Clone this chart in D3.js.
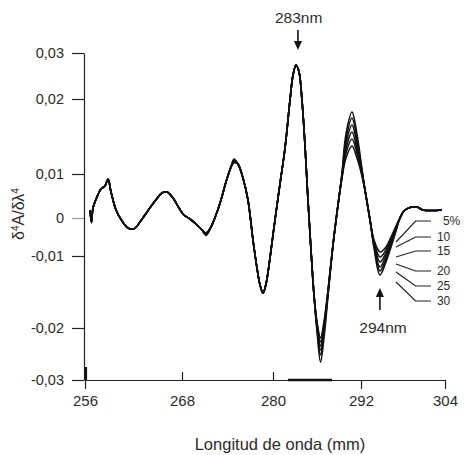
<!DOCTYPE html>
<html>
<head>
<meta charset="utf-8">
<script src="https://cdn.jsdelivr.net/npm/d3@7"></script>
<style>
body { margin: 0; background: #fff; }
text { font-family: "Liberation Sans", Arial, sans-serif; fill: #2b2b2b; }
.curve { fill: none; stroke: #111; stroke-width: 1.6; }
.axis path, .axis line { stroke: #222; stroke-width: 1.2; }
.leader { fill: none; stroke: #222; stroke-width: 1.2; }
</style>
</head>
<body>
<div id="chart"></div>
<script>
// wavelengths (nm) shared by every spectrum
const wavelength = [
    256.62,256.80,256.99,257.48,257.98,258.47,258.85,259.22,259.84,260.58,
    261.32,262.06,262.80,263.67,264.66,265.53,266.14,266.89,267.63,268.26,
    269.05,269.85,270.64,271.16,271.82,272.48,273.14,273.80,274.46,274.86,
    275.38,276.04,276.70,277.36,277.89,278.29,278.68,279.08,279.60,280.27,
    280.95,281.64,282.32,282.73,283.14,283.55,283.95,284.36,284.77,285.18,285.59,
    286.00,286.48,286.95,287.50,288.18,288.86,289.41,289.95,290.77,291.45,292.00,
    292.57,293.29,293.86,294.71,295.57,296.29,297.00,297.57,298.14,299.00,300.00,300.86,302.14,303.57];

// fourth derivative for each concentration
const s5 = [
    0.00182,-0.0008,0.00227,0.00477,0.00659,0.00727,0.00886,0.00591,0.00182,-0.00079,
    -0.00263,-0.00289,-0.00105,0.00136,0.00386,0.00568,0.00591,0.00455,0.00227,0.00068,
    -0.00026,-0.00158,-0.00316,-0.0039,-0.00237,0.00068,0.00409,0.00818,0.01093,0.0115,
    0.01133,0.00909,0.00409,-0.00579,-0.01167,-0.01403,-0.01514,-0.01389,-0.01028,-0.00053,
    0.00773,0.01347,0.01987,0.02522,0.02739,0.02587,0.01987,0.01387,0.00409,-0.00842,-0.01542,
    -0.01917,-0.02192,-0.01917,-0.01472,-0.00711,0.00295,0.00909,0.01213,0.01373,0.01213,0.01027,
    0.00636,-0.00053,-0.00579,-0.00895,-0.00763,-0.005,-0.00211,0,0.00159,0.00239,0.0025,0.00182,0.0017,0.00182];
const s10 = [
    0.00182,-0.0009,0.00227,0.00477,0.00659,0.00727,0.00886,0.00591,0.00182,-0.00079,
    -0.00263,-0.00289,-0.00105,0.00136,0.00386,0.00568,0.00591,0.00455,0.00227,0.00068,
    -0.00026,-0.00158,-0.00316,-0.004,-0.00237,0.00068,0.00409,0.00818,0.01093,0.0116,
    0.01133,0.00909,0.00409,-0.00579,-0.01167,-0.01403,-0.01514,-0.01389,-0.01028,-0.00053,
    0.00773,0.01347,0.01987,0.02522,0.02739,0.02587,0.01987,0.01387,0.00409,-0.00842,-0.01542,
    -0.01931,-0.02269,-0.01944,-0.01486,-0.00711,0.00295,0.00932,0.0128,0.01467,0.0128,0.01053,
    0.00636,-0.00053,-0.00632,-0.01014,-0.00842,-0.00553,-0.00237,0,0.00159,0.00239,0.0025,0.00182,0.0017,0.00182];
const s15 = [
    0.00182,-0.001,0.00227,0.00477,0.00659,0.00727,0.00886,0.00591,0.00182,-0.00079,
    -0.00263,-0.00289,-0.00105,0.00136,0.00386,0.00568,0.00591,0.00455,0.00227,0.00068,
    -0.00026,-0.00158,-0.00316,-0.0041,-0.00237,0.00068,0.00409,0.00818,0.01093,0.0117,
    0.01133,0.00909,0.00409,-0.00579,-0.01167,-0.01403,-0.01514,-0.01389,-0.01028,-0.00053,
    0.00773,0.01347,0.01987,0.02522,0.02739,0.02587,0.01987,0.01387,0.00409,-0.00842,-0.01542,
    -0.01958,-0.02346,-0.01986,-0.015,-0.00711,0.00295,0.00955,0.01333,0.0156,0.01333,0.0108,
    0.00636,-0.00053,-0.00658,-0.01083,-0.00921,-0.00605,-0.00263,0,0.00159,0.00239,0.0025,0.00182,0.0017,0.00182];
const s20 = [
    0.00182,-0.0011,0.00227,0.00477,0.00659,0.00727,0.00886,0.00591,0.00182,-0.00079,
    -0.00263,-0.00289,-0.00105,0.00136,0.00386,0.00568,0.00591,0.00455,0.00227,0.00068,
    -0.00026,-0.00158,-0.00316,-0.0043,-0.00237,0.00068,0.00409,0.00818,0.01093,0.0118,
    0.01133,0.00909,0.00409,-0.00579,-0.01167,-0.01403,-0.01514,-0.01389,-0.01028,-0.00053,
    0.00773,0.01347,0.01987,0.02522,0.02739,0.02587,0.01987,0.01387,0.00409,-0.00842,-0.01542,
    -0.01986,-0.02423,-0.02038,-0.01514,-0.00711,0.00295,0.00977,0.014,0.01653,0.014,0.01107,
    0.00636,-0.00053,-0.00711,-0.01153,-0.01,-0.00658,-0.00289,0,0.00159,0.00239,0.0025,0.00182,0.0017,0.00182];
const s25 = [
    0.00182,-0.0012,0.00227,0.00477,0.00659,0.00727,0.00886,0.00591,0.00182,-0.00079,
    -0.00263,-0.00289,-0.00105,0.00136,0.00386,0.00568,0.00591,0.00455,0.00227,0.00068,
    -0.00026,-0.00158,-0.00316,-0.0044,-0.00237,0.00068,0.00409,0.00818,0.01093,0.0119,
    0.01133,0.00909,0.00409,-0.00579,-0.01167,-0.01403,-0.01514,-0.01389,-0.01028,-0.00053,
    0.00773,0.01347,0.01987,0.02522,0.02739,0.02587,0.01987,0.01387,0.00409,-0.00842,-0.01542,
    -0.02019,-0.02519,-0.02096,-0.01528,-0.00711,0.00295,0.01,0.01467,0.01747,0.01467,0.01133,
    0.00636,-0.00053,-0.00737,-0.01208,-0.01042,-0.00711,-0.00316,0,0.00159,0.00239,0.0025,0.00182,0.0017,0.00182];
const s30 = [
    0.00182,-0.0013,0.00227,0.00477,0.00659,0.00727,0.00886,0.00591,0.00182,-0.00079,
    -0.00263,-0.00289,-0.00105,0.00136,0.00386,0.00568,0.00591,0.00455,0.00227,0.00068,
    -0.00026,-0.00158,-0.00316,-0.0046,-0.00237,0.00068,0.00409,0.00818,0.01093,0.012,
    0.01133,0.00909,0.00409,-0.00579,-0.01167,-0.01403,-0.01514,-0.01389,-0.01028,-0.00053,
    0.00773,0.01347,0.01987,0.02522,0.02739,0.02587,0.01987,0.01387,0.00409,-0.00842,-0.01542,
    -0.02058,-0.02654,-0.02192,-0.01556,-0.00711,0.00295,0.01013,0.01533,0.01827,0.01533,0.0116,
    0.00636,-0.00053,-0.00789,-0.01264,-0.01083,-0.00763,-0.00342,0,0.00159,0.00239,0.0025,0.00182,0.0017,0.00182];

const series = [s5, s10, s15, s20, s25, s30];
const seriesLabels = ["5%", "10", "15", "20", "25", "30"];
// where each label's leader starts (on its curve) and where the label sits
const leaderStart = [-0.00632, -0.00763, -0.01014, -0.01111, -0.01222, -0.01361];
const labelLevel = [-0.00079, -0.005, -0.00868, -0.01208, -0.01417, -0.01625];

const xTicks = [256, 268, 280, 292, 304];
const yTicks = [-0.03, -0.02, -0.01, 0, 0.01, 0.02, 0.03];
const yTickLabels = ["-0,03", "-0,02", "-0,01", "0", "0,01", "0,02", "0,03"];

const width = 466;
const height = 455;

// the printed axis is not evenly spaced, so use piecewise scales
let x = d3.scaleLinear().domain(xTicks).range([85, 182, 273, 361, 445]);
let y = d3.scaleLinear().domain(yTicks).range([380, 328, 256, 218, 174, 99, 53]);

let svg = d3.select("#chart").append("svg")
    .attr("width", width)
    .attr("height", height);

//Y axis
let yAxis = svg.append("g")
    .attr("class", "axis")
    .attr("transform", "translate(84,0)")
    .call(d3.axisLeft(y)
        .tickValues(yTicks)
        .tickFormat((d, i) => yTickLabels[i])
        .tickSize(12)
        .tickSizeOuter(0)
        .tickPadding(8));
yAxis.selectAll("text").style("font-size", "14.5px").attr("fill", "#2b2b2b");
yAxis.selectAll(".tick").filter(d => d === 0).select("line").style("stroke", "#999");

//X axis
let xAxis = svg.append("g")
    .attr("class", "axis")
    .attr("transform", "translate(0,380)")
    .call(d3.axisBottom(x)
        .tickValues(xTicks)
        .tickSize(9)
        .tickSizeOuter(0));
xAxis.selectAll(".tick line").attr("y2", d => (d === 268 || d === 280) ? -8 : 9);
xAxis.selectAll("text")
    .attr("y", 15)
    .style("font-size", "15px")
    .attr("fill", "#2b2b2b");

// heavier piece of the base line under the 289 nm trough
svg.append("line")
    .attr("x1", x(282.05)).attr("x2", x(288.05))
    .attr("y1", y(-0.03)).attr("y2", y(-0.03))
    .attr("stroke", "#111")
    .attr("stroke-width", 2.6);
svg.append("line")
    .attr("x1", x(256) + 1).attr("x2", x(256) + 1)
    .attr("y1", y(-0.03) - 13).attr("y2", y(-0.03))
    .attr("stroke", "#111")
    .attr("stroke-width", 2.2);

//Spectra
let line = d3.line()
    .x((d, i) => x(wavelength[i]))
    .y(d => y(d))
    .curve(d3.curveCatmullRom.alpha(0.5));

svg.selectAll("path.curve")
    .data(series)
    .enter()
    .append("path")
    .attr("class", "curve")
    .attr("d", line);

//Leaders and concentration labels
svg.selectAll("path.leader")
    .data(seriesLabels)
    .enter()
    .append("path")
    .attr("class", "leader")
    .attr("d", (d, i) => "M" + x(297.0) + "," + y(leaderStart[i]) +
        "L" + x(299.8) + "," + y(labelLevel[i]) +
        "L" + x(302.0) + "," + y(labelLevel[i]));

svg.selectAll("text.conc")
    .data(seriesLabels)
    .enter()
    .append("text")
    .attr("class", "conc")
    .attr("x", (d, i) => x(302.85) + (i === 0 ? 6 : 0))
    .attr("y", (d, i) => y(labelLevel[i]))
    .attr("dy", "0.35em")
    .style("font-size", "12px")
    .text(d => d);

//Peak annotations
function arrow(xPos, yTail, yTip) {
    let dir = yTip > yTail ? 1 : -1;
    svg.append("line")
        .attr("x1", xPos).attr("x2", xPos)
        .attr("y1", yTail).attr("y2", yTip - dir * 6)
        .attr("stroke", "#111")
        .attr("stroke-width", 1.6);
    svg.append("path")
        .attr("d", "M" + (xPos - 4) + "," + (yTip - dir * 9) +
            "L" + (xPos + 4) + "," + (yTip - dir * 9) +
            "L" + xPos + "," + yTip + "Z")
        .attr("fill", "#111");
}

arrow(x(283.4), 30, 50);
svg.append("text")
    .attr("x", x(283.5))
    .attr("y", 23)
    .attr("text-anchor", "middle")
    .style("font-size", "15.5px")
    .text("283nm");

arrow(x(294.7), 310, 288);
svg.append("text")
    .attr("x", x(295.15))
    .attr("y", 333)
    .attr("text-anchor", "middle")
    .style("font-size", "15.5px")
    .text("294nm");

//Axis titles
svg.append("text")
    .attr("x", 280)
    .attr("y", 450)
    .attr("text-anchor", "middle")
    .style("font-size", "16.5px")
    .text("Longitud de onda (mm)");

let yTitle = svg.append("text")
    .attr("transform", "translate(24,214) rotate(-90)")
    .attr("text-anchor", "middle")
    .style("font-size", "16px");
yTitle.append("tspan").text("δ");
yTitle.append("tspan").attr("baseline-shift", "super").style("font-size", "10px").text("4");
yTitle.append("tspan").text("A/δλ");
yTitle.append("tspan").attr("baseline-shift", "super").style("font-size", "10px").text("4");
</script>
</body>
</html>
